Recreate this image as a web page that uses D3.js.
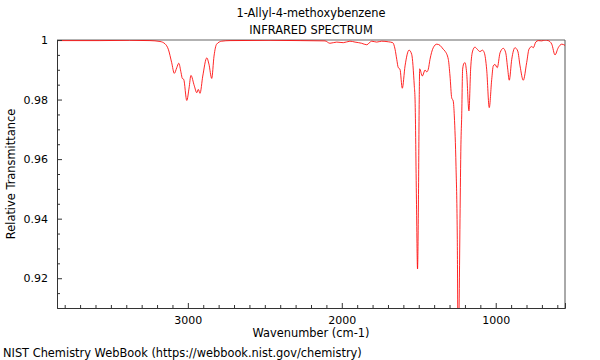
<!DOCTYPE html>
<html>
<head>
<meta charset="utf-8">
<script src="https://cdn.jsdelivr.net/npm/d3@7"></script>
<style>
  html, body { margin: 0; padding: 0; background: #fff; }
  svg { display: block; }
  text { font-family: "DejaVu Sans", sans-serif; fill: #000; }
</style>
</head>
<body>
<svg id="chart" width="600" height="360"></svg>
<script>
const titleLines = ["1-Allyl-4-methoxybenzene", "INFRARED SPECTRUM"];
const xLabel = "Wavenumber (cm-1)";
const yLabel = "Relative Transmittance";
const footer = "NIST Chemistry WebBook (https://webbook.nist.gov/chemistry)";

const xMajorTicks = [3000, 2000, 1000];
const yMajorTicks = [1, 0.98, 0.96, 0.94, 0.92];
const yTickLabels = ["1", "0.98", "0.96", "0.94", "0.92"];

const wavenumber = [3850, 3571, 3380, 3246, 3181, 3148, 3127, 3105, 3088, 3072, 3059, 3044, 3036, 3027, 3007,
  2992, 2980, 2958, 2942, 2932, 2921, 2903, 2877, 2863, 2845, 2830, 2813, 2780, 2726, 2466, 2271, 2109,
  2077, 2033, 1990, 1947, 1914, 1871, 1838, 1806, 1773, 1741, 1698, 1669, 1654, 1643, 1633, 1622, 1607,
  1589, 1563, 1546, 1529, 1524, 1515, 1508, 1502, 1497, 1494, 1477, 1459, 1448, 1438, 1427, 1406, 1383,
  1362, 1341, 1330, 1308, 1297, 1286, 1276, 1269, 1258, 1250, 1244, 1238, 1232, 1226, 1221, 1215, 1206,
  1200, 1189, 1174, 1163, 1150, 1135, 1120, 1102, 1087, 1074, 1059, 1042, 1026, 1016, 1005, 990, 972,
  951, 935, 922, 912, 896, 875, 857, 842, 821, 799, 784, 766, 756, 740, 723, 701, 680, 659, 636, 615,
  594, 571, 550];
const transmittance = [0.9998, 0.9998, 0.9999, 0.9998, 0.9995, 0.9987, 0.9969, 0.9924, 0.9888, 0.9907, 0.9922, 0.9890, 0.9871, 0.9868, 0.9797,
  0.9839, 0.9881, 0.9846, 0.9823, 0.9834, 0.9821, 0.9879, 0.9940, 0.9919, 0.9871, 0.9946, 0.9986, 0.9996, 0.9998, 0.9999, 0.9998, 0.9997,
  0.9989, 0.9993, 0.9991, 0.9996, 0.9993, 0.9989, 0.9984, 0.9996, 0.9993, 0.9996, 0.9994, 0.9991, 0.9969, 0.9935, 0.9907, 0.9902, 0.9838,
  0.9913, 0.9966, 0.9952, 0.9846, 0.9799, 0.9463, 0.9231, 0.9463, 0.9799, 0.9903, 0.9879, 0.9899, 0.9893, 0.9902, 0.9935, 0.9974, 0.9986,
  0.9982, 0.9969, 0.9963, 0.9935, 0.9879, 0.9806, 0.9795, 0.9745, 0.9575, 0.9352, 0.8950, 0.9100, 0.9400, 0.9650, 0.9745, 0.9902, 0.9922,
  0.9924, 0.9890, 0.9762, 0.9902, 0.9963, 0.9976, 0.9969, 0.9961, 0.9966, 0.9957, 0.9902, 0.9773, 0.9868, 0.9913, 0.9918, 0.9907, 0.9957,
  0.9972, 0.9957, 0.9902, 0.9865, 0.9935, 0.9974, 0.9963, 0.9913, 0.9865, 0.9924, 0.9969, 0.9978, 0.9974, 0.9993, 0.9998, 0.9997, 1.0000, 0.9998, 0.9986, 0.9950,
  0.9974, 0.9986, 0.9982];

const data = wavenumber.map((w, i) => ({ w, t: transmittance[i] }));

const svg = d3.select("#chart");
const mL = 57, mR = 565, mT = 40, mB = 308;

const x = d3.scaleLinear().domain([3850, 550]).range([mL, mR]);
const y = d3.scaleLinear().domain([0.91, 1.0]).range([mB, mT]);

svg.append("defs").append("clipPath").attr("id", "clip")
  .append("rect").attr("x", mL).attr("y", mT).attr("width", mR - mL).attr("height", mB - mT);

svg.append("line").attr("x1", mL).attr("x2", mR).attr("y1", mT).attr("y2", mT)
  .attr("stroke", "#999").attr("stroke-width", 1.6);
svg.append("line").attr("x1", mR).attr("x2", mR).attr("y1", mT).attr("y2", mB)
  .attr("stroke", "#555").attr("stroke-width", 1);

const line = d3.line().x(d => x(d.w)).y(d => y(d.t)).curve(d3.curveMonotoneX);
svg.append("path").datum(data)
  .attr("clip-path", "url(#clip)")
  .attr("fill", "none").attr("stroke", "#ff0000").attr("stroke-width", 0.85)
  .attr("d", line);

const xMinor = d3.range(600, 3850, 100).filter(v => !xMajorTicks.includes(v));
const xAxisMajor = d3.axisBottom(x).tickValues(xMajorTicks).tickSize(-5).tickFormat(d3.format("d")).tickPadding(8);
const gx = svg.append("g").attr("transform", `translate(0,${mB})`).call(xAxisMajor);
gx.select(".domain").attr("stroke", "#333");
gx.selectAll(".tick line").attr("stroke", "#333");
gx.selectAll(".tick text").attr("font-size", 11).attr("font-family", "DejaVu Sans");
const gxm = svg.append("g").attr("transform", `translate(0,${mB})`)
  .call(d3.axisBottom(x).tickValues(xMinor).tickSize(-3).tickFormat(""));
gxm.select(".domain").remove();
gxm.selectAll(".tick line").attr("stroke", "#333");

const yMinor = d3.range(0, 18).map(i => 0.915 + i * 0.005).filter(v => !yMajorTicks.some(m => Math.abs(m - v) < 1e-6));
const yAxisMajor = d3.axisLeft(y).tickValues(yMajorTicks).tickSize(-5).tickPadding(9)
  .tickFormat((d, i) => yTickLabels[i]);
const gy = svg.append("g").attr("transform", `translate(${mL},0)`).call(yAxisMajor);
gy.select(".domain").attr("stroke", "#333");
gy.selectAll(".tick line").attr("stroke", "#333");
gy.selectAll(".tick text").attr("font-size", 11).attr("font-family", "DejaVu Sans");
const gym = svg.append("g").attr("transform", `translate(${mL},0)`)
  .call(d3.axisLeft(y).tickValues(yMinor).tickSize(-3).tickFormat(""));
gym.select(".domain").remove();
gym.selectAll(".tick line").attr("stroke", "#333");

const cx = (mL + mR) / 2;
svg.append("text").attr("x", cx).attr("y", 17).attr("text-anchor", "middle").attr("font-size", 11.4).text(titleLines[0]);
svg.append("text").attr("x", cx).attr("y", 34).attr("text-anchor", "middle").attr("font-size", 11.4).text(titleLines[1]);
svg.append("text").attr("x", cx).attr("y", 337).attr("text-anchor", "middle").attr("font-size", 11.4).text(xLabel);
svg.append("text").attr("transform", `translate(15,${(mT + mB) / 2}) rotate(-90)`)
  .attr("text-anchor", "middle").attr("font-size", 11.4).text(yLabel);
svg.append("text").attr("x", 3).attr("y", 357).attr("font-size", 11.4).text(footer);
</script>
</body>
</html>
